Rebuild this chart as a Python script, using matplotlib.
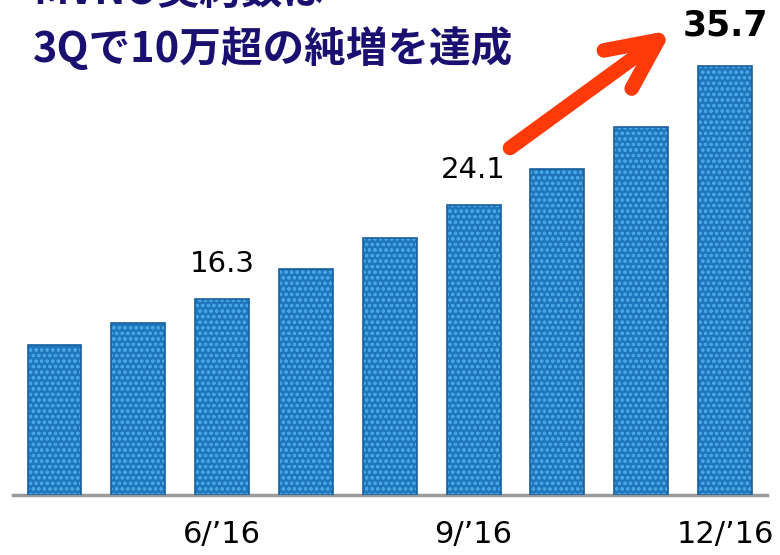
import matplotlib.pyplot as plt
from matplotlib.patches import FancyArrowPatch

plt.rcParams['font.family'] = ['Noto Sans CJK JP', 'DejaVu Sans']
plt.rcParams['hatch.linewidth'] = 0.8

# ---------------------------------------------------------------------------
# Data (MVNO契約数, 万)
# ---------------------------------------------------------------------------
values = [12.5, 14.3, 16.3, 18.8, 21.4, 24.1, 27.1, 30.6, 35.7]
tick_labels = ["", "", "6/’16", "", "", "9/’16", "", "", "12/’16"]
labelled = {2: "16.3", 5: "24.1", 8: "35.7"}
title_lines = ["MVNO契約数は", "3Qで10万超の純増を達成"]

BAR_COLOR = "#1f76bd"
DOT_COLOR = "#48a6e2"
NAVY = "#1a1070"
ARROW_RED = "#ff3a0a"

fig = plt.figure(figsize=(7.8, 5.55), dpi=100)
ax = fig.add_axes([12.6 / 780, 60 / 555, 754.3 / 780, 480 / 555])

x = list(range(len(values)))
ax.bar(x, values, width=0.644, color=BAR_COLOR, edgecolor="none", zorder=2)
ax.bar(x, values, width=0.644, color="none", edgecolor=DOT_COLOR, hatch="ooo",
       linewidth=0, zorder=3)
# darker edges to suggest cylinder shading
ax.bar(x, values, width=0.644, color="none", edgecolor="#185e9c", linewidth=1.2, zorder=4)

ax.set_xlim(-0.5, len(values) - 0.5)
ax.set_ylim(0, 39.9)

for i, txt in labelled.items():
    bold = i == len(values) - 1
    ax.annotate(txt, (i, values[i]), xytext=(0, 40 if bold else 35),
                textcoords="offset pixels", ha="center", va="center",
                fontsize=25 if bold else 21, fontweight="bold" if bold else "normal",
                family="DejaVu Sans", color="black", zorder=5)

for s in ["top", "right", "left"]:
    ax.spines[s].set_visible(False)
ax.spines["bottom"].set_color("#9a9a9a")
ax.spines["bottom"].set_linewidth(2.5)
ax.set_yticks([])
ax.set_xticks(x)
ax.set_xticklabels(tick_labels, fontsize=22, family="DejaVu Sans")
ax.tick_params(axis="x", length=0, pad=18)

# title (first line is cut off by the top edge, as in the original slide)
fig.text(33 / 780, 1 + 8 / 555, title_lines[0], ha="left", va="center",
         fontsize=30, fontweight="bold", color=NAVY)
fig.text(33 / 780, 1 - 49 / 555, title_lines[1], ha="left", va="center",
         fontsize=30, fontweight="bold", color=NAVY)

# red growth arrow
arrow = FancyArrowPatch((510, 555 - 148), (672, 555 - 30),
                        transform=None,
                        arrowstyle="->,head_length=3.6,head_width=1.7",
                        mutation_scale=10, linewidth=10.5, color=ARROW_RED,
                        capstyle="round", joinstyle="round",
                        shrinkA=0, shrinkB=0, zorder=6)
fig.patches.append(arrow)

fig.savefig("out.png", dpi=100)
